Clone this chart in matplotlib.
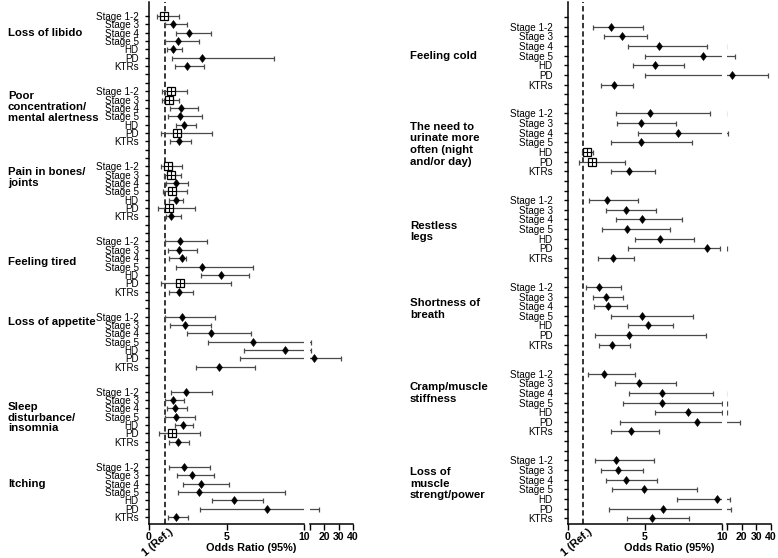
import matplotlib.pyplot as plt
from matplotlib.transforms import blended_transform_factory

plt.rcParams['font.family'] = ['Liberation Sans', 'DejaVu Sans']

stages = ['Stage 1-2', 'Stage 3', 'Stage 4', 'Stage 5', 'HD', 'PD', 'KTRs']

# (odds ratio, lower 95% CI, upper 95% CI) per stage
libido = [(0.99, 0.53, 1.93), (1.57, 1.02, 2.43), (2.60, 1.72, 4.02), (1.85, 1.03, 3.22),
          (1.57, 1.14, 2.13), (3.40, 1.46, 8.06), (2.43, 1.66, 3.53)]
concentration = [(1.40, 0.83, 2.47), (1.29, 0.87, 1.96), (2.04, 1.35, 3.16), (2.00, 1.20, 3.44),
                 (2.28, 1.72, 3.03), (1.79, 0.77, 4.05), (1.94, 1.35, 2.69)]
bones = [(1.25, 0.75, 2.15), (1.42, 0.99, 2.06), (1.72, 1.12, 2.54), (1.50, 0.90, 2.47),
         (1.72, 1.31, 2.21), (1.29, 0.58, 2.95), (1.44, 1.07, 2.04)]
tired = [(2.00, 1.03, 3.76), (1.96, 1.25, 3.07), (2.11, 1.31, 2.39), (3.40, 1.74, 6.73),
         (4.62, 3.33, 6.47), (2.00, 0.79, 5.26), (1.91, 1.31, 2.86)]
appetite = [(2.11, 1.03, 4.24), (2.34, 1.37, 4.00), (3.98, 2.43, 6.56), (6.71, 3.79, 10.6),
            (8.77, 6.15, 10.6), (13.0, 5.87, 31.5), (4.52, 3.01, 6.86)]
sleep = [(2.39, 1.40, 4.06), (1.57, 1.05, 2.28), (1.68, 1.14, 2.47), (1.76, 1.03, 2.95),
         (2.17, 1.70, 2.86), (1.46, 0.67, 3.29), (1.85, 1.31, 2.56)]
itching = [(2.28, 1.29, 3.96), (2.77, 1.83, 4.21), (3.38, 2.21, 5.18), (3.20, 1.89, 8.79),
           (5.48, 4.06, 7.38), (7.59, 3.29, 16.5), (1.74, 1.20, 2.54)]

cold = [(2.81, 1.64, 4.85), (3.49, 2.36, 5.11), (5.93, 3.87, 9.00), (8.74, 4.98, 15.5),
        (5.65, 4.24, 7.51), (13.6, 4.98, 38.0), (3.01, 2.12, 4.24)]
urinate = [(5.35, 3.10, 9.24), (4.74, 3.18, 7.03), (7.14, 4.57, 10.9), (4.76, 2.81, 8.07),
           (1.21, 0.91, 1.62), (1.58, 0.71, 3.68), (3.98, 2.81, 5.67)]
restless = [(2.53, 1.39, 4.52), (3.75, 2.45, 5.71), (4.78, 3.10, 7.40), (3.83, 2.23, 6.64),
            (6.00, 4.37, 8.20), (9.00, 3.90, 9.90), (2.90, 1.97, 4.27)]
breath = [(2.01, 1.15, 3.46), (2.47, 1.64, 3.59), (2.58, 1.71, 3.85), (4.81, 2.81, 8.14),
          (5.17, 3.92, 6.84), (3.98, 1.77, 8.96), (2.88, 2.03, 4.03)]
cramp = [(2.36, 1.28, 4.37), (4.63, 3.07, 7.01), (6.12, 3.98, 9.39), (6.08, 3.55, 9.97),
         (7.77, 5.67, 9.97), (8.38, 3.36, 19.0), (4.11, 2.81, 5.93)]
muscle = [(3.14, 1.73, 5.61), (3.25, 2.12, 4.89), (3.79, 2.49, 5.80), (4.91, 2.88, 8.40),
          (9.68, 7.10, 12.3), (6.19, 2.66, 13.0), (5.45, 3.81, 7.88)]

left_names = ['Loss of libido', 'Poor\nconcentration/\nmental alertness', 'Pain in bones/\njoints',
              'Feeling tired', 'Loss of appetite', 'Sleep\ndisturbance/\ninsomnia', 'Itching']
right_names = ['Feeling cold', 'The need to\nurinate more\noften (night\nand/or day)', 'Restless\nlegs',
               'Shortness of\nbreath', 'Cramp/muscle\nstiffness', 'Loss of\nmuscle\nstrengt/power']
left_data = [libido, concentration, bones, tired, appetite, sleep, itching]
right_data = [cold, urinate, restless, breath, cramp, muscle]

# where each group title sits, in rows below the group's first row
left_label_rows = [2.0, 1.9, 1.3, 2.45, 0.65, 3.1, 2.05]
right_label_rows = [3.0, 3.2, 3.25, 2.3, 2.0, 2.4]

W, H = 778, 558
fig = plt.figure(figsize=(W / 100, H / 100), dpi=100)


def px_axes(x0, x1, y0=2, y1=524):
    return fig.add_axes([x0 / W, (H - y1) / H, (x1 - x0) / W, (y1 - y0) / H])


def forest(xs, data, names, label_rows, label_x, ylim, pad, spacing):
    ax = px_axes(xs[0], xs[1])
    ax2 = px_axes(xs[2], xs[3])
    step = len(stages) + 2
    ticks, ticklabels = [], []
    for r in range(int(ylim[1]) + (1 if ylim[1] < 0 else 0), int(ylim[0]) + 1):
        ticks.append(r)
        g, i = divmod(r, step)
        ticklabels.append(stages[i] if r >= 0 and i < len(stages) else '')

    for g, group in enumerate(data):
        for i, (o, lo, hi) in enumerate(group):
            y = g * step + i
            for a in (ax, ax2):
                a.errorbar(o, y, xerr=[[o - lo], [hi - o]], fmt='none', ecolor='#4a4a4a',
                           elinewidth=0.9, capsize=1.8, capthick=0.9)
            a = ax if o <= 10 else ax2
            if lo < 1:
                a.plot(o, y, marker='s', ms=5.4, mfc='white', mec='black', mew=0.9, zorder=3)
                a.plot(o, y, marker='+', ms=5.4, mec='black', mew=0.8, zorder=4)
            else:
                a.plot(o, y, marker='d', ms=4.4, color='black', mew=0.4, zorder=3)
        tr = blended_transform_factory(fig.transFigure, ax.transData)
        ax.text(label_x / W, g * step + label_rows[g], names[g], transform=tr, ha='left',
                va='center', fontsize=8.2, fontweight='bold', linespacing=spacing)

    for a in (ax, ax2):
        a.set_ylim(*ylim)
        a.spines[['top', 'right']].set_visible(False)
        a.tick_params(axis='x', direction='out', length=4, width=1, pad=1.5, labelsize=7.6)
        for s in a.spines.values():
            s.set_linewidth(1.1)

    ax.set_xlim(0, 10)
    ax.set_xticks([0, 5, 10], ['0', '5', '10'], fontweight='bold')
    ax.set_yticks(ticks, ticklabels, fontsize=7.1)
    ax.tick_params(axis='y', direction='out', length=3, width=1, pad=pad)
    ax.axvline(1, color='black', ls=(0, (3.5, 2)), lw=1.1, zorder=1)
    ax.annotate('1 (Ref.)', xy=(1, 0), xycoords=('data', 'axes fraction'), xytext=(3, -2),
                textcoords='offset points', rotation=40, rotation_mode='anchor',
                ha='right', va='top', fontsize=7.8, fontweight='bold')

    ax2.set_xlim(10, 40)
    ax2.set_xticks([10, 20, 30, 40], ['', '20', '30', '40'], fontweight='bold')
    ax2.spines['left'].set_visible(False)
    ax2.set_yticks([])

    fig.text((xs[0] + xs[3]) / 2 / W, (H - 548) / H, 'Odds Ratio (95%)', ha='center',
             va='center', fontsize=7.8, fontweight='bold')


forest((149, 304, 310, 353), left_data, left_names, left_label_rows, 8,
       (60.84, -1.68), 4.5, 1.1)
forest((568, 722, 727, 771), right_data, right_names, right_label_rows, 410,
       (51.6, -2.56), 8.0, 1.2)

fig.savefig('out.png', dpi=100)
